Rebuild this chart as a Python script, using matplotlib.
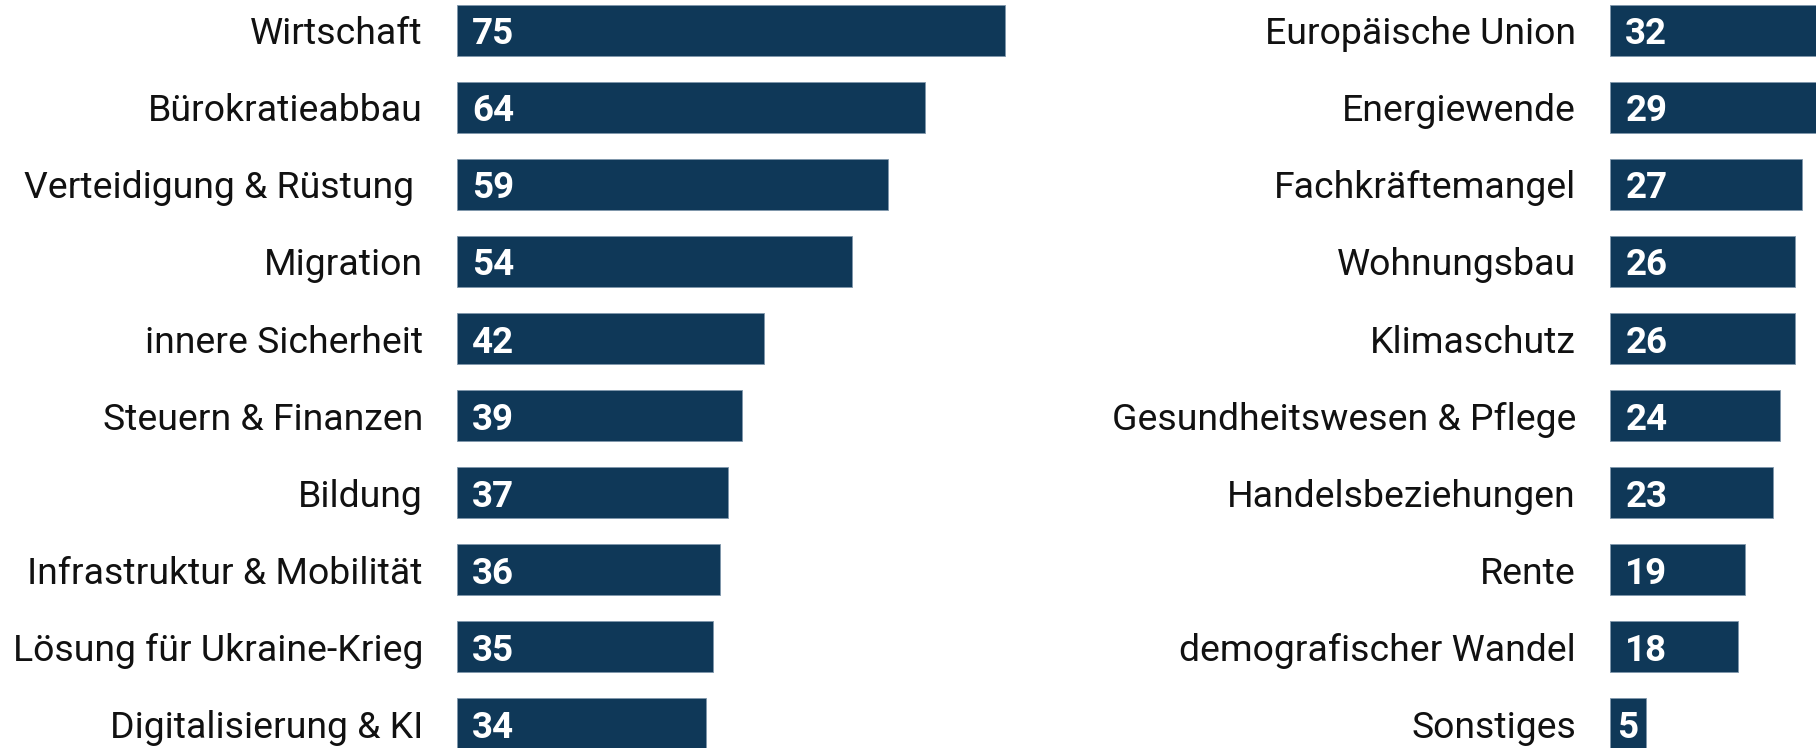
import matplotlib.pyplot as plt
import numpy as np

# ==== Data ====
left_topics = ['Wirtschaft', 'Bürokratieabbau', 'Verteidigung & Rüstung ', 'Migration',
               'innere Sicherheit', 'Steuern & Finanzen', 'Bildung',
               'Infrastruktur & Mobilität', 'Lösung für Ukraine-Krieg', 'Digitalisierung & KI']
left_values = [75, 64, 59, 54, 42, 39, 37, 36, 35, 34]

right_topics = ['Europäische Union', 'Energiewende', 'Fachkräftemangel', 'Wohnungsbau',
                'Klimaschutz', 'Gesundheitswesen & Pflege', 'Handelsbeziehungen', 'Rente',
                'demografischer Wandel', 'Sonstiges']
right_values = [32, 29, 27, 26, 26, 24, 23, 19, 18, 5]

bar_color = '#0f3858'
edge_color = '#7f97ab'

plt.rcParams['font.family'] = ['Roboto', 'DejaVu Sans']

fig = plt.figure(figsize=(18.16, 7.48), dpi=100)
ax_l = fig.add_axes([457 / 1816, 0, 585 / 1816, 1])
ax_r = fig.add_axes([1610 / 1816, 0, 206 / 1816, 1])


def draw_panel(ax, topics, values, xmax):
    y = np.arange(len(topics))
    ax.barh(y, values, height=0.66, color=bar_color, edgecolor=edge_color, linewidth=0.6)
    ax.set_xlim(0, xmax)
    ax.set_ylim(9.318, -0.396)
    ax.set_yticks(y)
    ax.set_yticklabels(topics, fontsize=26.9, color='#111111')
    ax.tick_params(axis='y', length=0, pad=24.5)
    ax.set_xticks([])
    for s in ax.spines.values():
        s.set_visible(False)
    for yi, v in zip(y, values):
        if v < 10:
            # short bar: centre the number inside it
            ax.text(v / 2, yi, str(v), ha='center', va='center_baseline', color='white',
                    fontsize=26.5, fontweight='bold')
        else:
            ax.annotate(str(v), xy=(0, yi), xytext=(11, 0), textcoords='offset points',
                        ha='left', va='center_baseline', color='white',
                        fontsize=26.5, fontweight='bold')


draw_panel(ax_l, left_topics, left_values, 80)
draw_panel(ax_r, right_topics, right_values, 29)

fig.savefig('out.png', dpi=100, facecolor='white')
